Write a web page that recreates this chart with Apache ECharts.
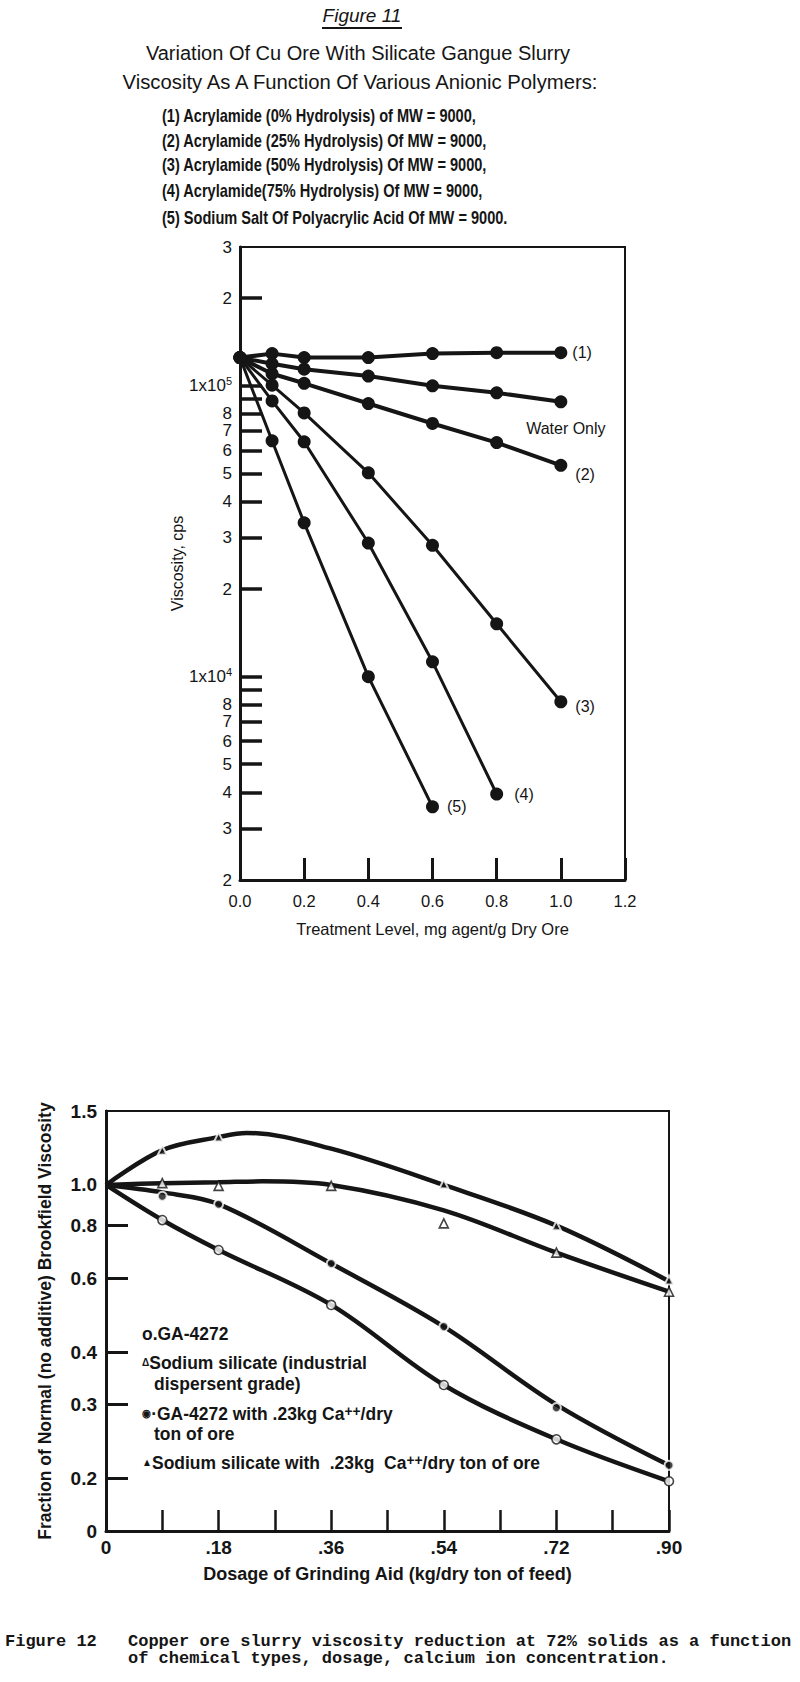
<!DOCTYPE html>
<html>
<head>
<meta charset="utf-8">
<title>Figure 11 and Figure 12</title>
<script src="https://cdn.jsdelivr.net/npm/echarts@6/dist/echarts.min.js"></script>
<style>
html, body { margin: 0; padding: 0; background: #fff; }
#main { width: 800px; height: 1682px; }
</style>
</head>
<body>
<div id="main"></div>
<script>
// ---- Figure 11: viscosity (cps) vs treatment level (mg agent / g dry ore)
var treatLevels = [0, 0.1, 0.2, 0.4, 0.6, 0.8, 1.0];
var visc1 = [125000, 129000, 125000, 125000, 129000, 130000, 130000];
var viscWater = [125000, 119000, 114000, 108000, 100000, 94600, 88100];
var visc2 = [125000, 110000, 102000, 86900, 74200, 63800, 53300];
var visc3 = [125000, 100500, 80700, 50200, 28300, 15200, 8200];
var visc4 = [125000, 88700, 64200, 28800, 11250, 3950];
var visc5 = [125000, 64700, 33800, 10000, 3570];

var viscLabelVals = [2000, 3000, 4000, 5000, 6000, 7000, 8000, 10000, 20000, 30000, 40000, 50000, 60000, 70000, 80000, 100000, 200000, 300000];
var viscLabelTexts = ['2', '3', '4', '5', '6', '7', '8', '1x10{s|4}', '2', '3', '4', '5', '6', '7', '8', '1x10{s|5}', '2', '3'];
var viscTickVals = [3000, 4000, 5000, 6000, 7000, 8000, 9000, 10000, 20000, 30000, 40000, 50000, 60000, 70000, 80000, 90000, 100000, 200000];

// ---- Figure 12: fraction of normal viscosity vs dosage (kg / dry ton of feed)
// smooth fitted curves
var silCaCurveX = [0, 0.09, 0.18, 0.225, 0.36, 0.54, 0.72, 0.90];
var silCaCurveY = [1.0, 1.21, 1.30, 1.33, 1.22, 1.0, 0.80, 0.59];
var silCurveX = [0, 0.09, 0.18, 0.25, 0.36, 0.54, 0.72, 0.90];
var silCurveY = [1.0, 1.01, 1.015, 1.02, 1.0, 0.87, 0.69, 0.557];
var gaCaCurveX = [0, 0.09, 0.18, 0.36, 0.54, 0.72, 0.90];
var gaCaCurveY = [1.0, 0.96, 0.90, 0.65, 0.46, 0.30, 0.215];
var gaCurveX = [0, 0.09, 0.18, 0.36, 0.54, 0.72, 0.90];
var gaCurveY = [1.0, 0.825, 0.70, 0.518, 0.334, 0.248, 0.197];
// measured points
var silCaPtX = [0.09, 0.18, 0.54, 0.72, 0.90];
var silCaPtY = [1.21, 1.30, 1.005, 0.80, 0.594];
var silPtX = [0.09, 0.18, 0.36, 0.54, 0.72, 0.90];
var silPtY = [1.01, 0.995, 0.995, 0.81, 0.69, 0.557];
var gaCaPtX = [0.09, 0.18, 0.36, 0.54, 0.72, 0.90];
var gaCaPtY = [0.94, 0.90, 0.65, 0.46, 0.295, 0.215];
var gaPtX = [0.09, 0.18, 0.36, 0.54, 0.72, 0.90];
var gaPtY = [0.825, 0.70, 0.518, 0.334, 0.248, 0.197];

var fracLabelVals = [0.15, 0.2, 0.3, 0.4, 0.6, 0.8, 1.0, 1.5];
var fracLabelTexts = ['0', '0.2', '0.3', '0.4', '0.6', '0.8', '1.0', '1.5'];
var fracTickVals = [0.2, 0.3, 0.4, 0.6, 0.8];
var doseLabelVals = [0, 0.18, 0.36, 0.54, 0.72, 0.90];
var doseLabelTexts = ['0', '.18', '.36', '.54', '.72', '.90'];

var INK = '#151515';
var SANS = '"Liberation Sans", Arial, sans-serif';
var MONO = '"Liberation Mono", "DejaVu Sans Mono", monospace';

function pairs(xs, ys) {
	var out = [];
	for (var i = 0; i < ys.length; i++) {
		out.push([xs[i], ys[i]]);
	}
	return out;
}

// nearest label for a tick value (works for the log axes too)
function lookupLabel(vals, texts, v) {
	var best = 0;
	for (var i = 1; i < vals.length; i++) {
		if (Math.abs(vals[i] - v) < Math.abs(vals[best] - v)) best = i;
	}
	return texts[best];
}

// put a text label on the last point of a series
function withEndLabel(data, text, opts) {
	var last = data.length - 1;
	var lbl = {
		show: true,
		formatter: text,
		color: INK,
		fontFamily: SANS,
		fontSize: 16
	};
	for (var k in opts) lbl[k] = opts[k];
	data[last] = { value: data[last], label: lbl };
	return data;
}

function viscSeries(name, ys, width, text, opts) {
	return {
		name: name,
		type: 'line',
		xAxisIndex: 0,
		yAxisIndex: 0,
		data: withEndLabel(pairs(treatLevels, ys), text, opts),
		symbol: 'circle',
		symbolSize: 13,
		itemStyle: { color: INK },
		lineStyle: { color: INK, width: width },
		z: 3
	};
}

function curveSeries(name, xs, ys) {
	return {
		name: name,
		type: 'line',
		xAxisIndex: 1,
		yAxisIndex: 1,
		data: pairs(xs, ys),
		smooth: 0.35,
		showSymbol: false,
		symbol: 'none',
		lineStyle: { color: INK, width: 4.5 },
		z: 2
	};
}

function pointSeries(name, xs, ys, symbol, open) {
	return {
		name: name,
		type: 'scatter',
		xAxisIndex: 1,
		yAxisIndex: 1,
		data: pairs(xs, ys),
		symbol: symbol,
		symbolSize: 9,
		itemStyle: open
			? { color: '#fff', borderColor: INK, borderWidth: 1.6 }
			: { color: INK, borderColor: '#fff', borderWidth: 2 },
		z: 4
	};
}

// left-aligned text, squeezed horizontally to mimic the condensed typeface
function condText(x, y, text, size, squeeze, rich) {
	var st = {
		text: text,
		font: 'bold ' + size + 'px ' + SANS,
		fill: INK,
		align: 'left',
		verticalAlign: 'middle'
	};
	if (rich) st.rich = rich;
	return { type: 'text', x: x, y: y, scaleX: squeeze, style: st };
}

function centerText(x, y, text, font) {
	return { type: 'text', x: x, y: y, style: { text: text, font: font, fill: INK, align: 'center', verticalAlign: 'middle' } };
}

function leftText(x, y, text, font) {
	return { type: 'text', x: x, y: y, style: { text: text, font: font, fill: INK, align: 'left', verticalAlign: 'middle' } };
}

var keyRich = {
	m: { fontSize: 11, fontFamily: SANS, fontWeight: 'bold', fill: INK },
	s: { fontSize: 15, fontFamily: SANS, fontWeight: 'bold', fill: INK, verticalAlign: 'top', lineHeight: 12 }
};

var chart = echarts.init(document.getElementById('main'), null, { renderer: 'svg' });

var option = {
	animation: false,
	backgroundColor: '#fff',
	grid: [
		{ left: 240, top: 247, width: 385, height: 633, show: true, borderColor: INK, borderWidth: 2, backgroundColor: 'transparent' },
		{ left: 106, top: 1111, width: 563, height: 420, show: true, borderColor: INK, borderWidth: 2, backgroundColor: 'transparent' }
	],
	xAxis: [
		{
			gridIndex: 0,
			type: 'value',
			min: 0,
			max: 1.2,
			interval: 0.2,
			name: 'Treatment Level, mg agent/g Dry Ore',
			nameLocation: 'middle',
			nameGap: 40,
			nameTextStyle: { color: INK, fontFamily: SANS, fontSize: 16.5 },
			axisLine: { onZero: false, lineStyle: { color: INK, width: 3 } },
			axisTick: { inside: true, length: 22, lineStyle: { color: INK, width: 3 } },
			axisLabel: {
				margin: 12,
				color: INK,
				fontFamily: SANS,
				fontSize: 16.5,
				formatter: function (v) { return v.toFixed(1); }
			},
			splitLine: { show: false }
		},
		{
			gridIndex: 1,
			type: 'value',
			min: 0,
			max: 0.9,
			interval: 0.09,
			name: 'Dosage of Grinding Aid (kg/dry ton of feed)',
			nameLocation: 'middle',
			nameGap: 34,
			nameTextStyle: { color: INK, fontFamily: SANS, fontWeight: 'bold', fontSize: 18 },
			axisLine: { onZero: false, lineStyle: { color: INK, width: 3 } },
			axisTick: { inside: true, length: 21, lineStyle: { color: INK, width: 2.5 } },
			axisLabel: {
				margin: 7,
				color: INK,
				fontFamily: SANS,
				fontWeight: 'bold',
				fontSize: 19,
				customValues: doseLabelVals,
				formatter: function (v) { return lookupLabel(doseLabelVals, doseLabelTexts, v); }
			},
			splitLine: { show: false }
		}
	],
	yAxis: [
		{
			gridIndex: 0,
			type: 'log',
			logBase: 10,
			min: 2000,
			max: 300000,
			name: 'Viscosity, cps',
			nameLocation: 'middle',
			nameGap: 41,
			nameTextStyle: { color: INK, fontFamily: SANS, fontSize: 16 },
			axisLine: { lineStyle: { color: INK, width: 3 } },
			axisTick: { inside: true, length: 22, customValues: viscTickVals, lineStyle: { color: INK, width: 3.5 } },
			minorTick: { show: false },
			axisLabel: {
				margin: 8,
				color: INK,
				fontFamily: SANS,
				fontSize: 17,
				lineHeight: 20,
				customValues: viscLabelVals,
				formatter: function (v) { return lookupLabel(viscLabelVals, viscLabelTexts, v); },
				rich: {
					s: { fontSize: 11, fontFamily: SANS, color: INK, verticalAlign: 'top', lineHeight: 12 }
				}
			},
			splitLine: { show: false }
		},
		{
			gridIndex: 1,
			type: 'log',
			logBase: 10,
			min: 0.15,
			max: 1.5,
			name: 'Fraction of Normal (no additive) Brookfield Viscosity',
			nameLocation: 'middle',
			nameGap: 52,
			nameTextStyle: { color: INK, fontFamily: SANS, fontWeight: 'bold', fontSize: 17.5 },
			axisLine: { lineStyle: { color: INK, width: 3 } },
			axisTick: { inside: true, length: 22, customValues: fracTickVals, lineStyle: { color: INK, width: 3 } },
			minorTick: { show: false },
			axisLabel: {
				margin: 9,
				color: INK,
				fontFamily: SANS,
				fontWeight: 'bold',
				fontSize: 19,
				customValues: fracLabelVals,
				formatter: function (v) { return lookupLabel(fracLabelVals, fracLabelTexts, v); }
			},
			splitLine: { show: false }
		}
	],
	series: [
		viscSeries('(1) Acrylamide (0% Hydrolysis)', visc1, 4, '(1)', { position: 'right', distance: 5 }),
		viscSeries('Water Only', viscWater, 4, 'Water Only', { position: 'bottom', distance: 12, offset: [5, 0] }),
		viscSeries('(2) Acrylamide (25% Hydrolysis)', visc2, 4, '(2)', { position: 'right', distance: 8, offset: [0, 9] }),
		viscSeries('(3) Acrylamide (50% Hydrolysis)', visc3, 3, '(3)', { position: 'right', distance: 8, offset: [0, 5] }),
		viscSeries('(4) Acrylamide (75% Hydrolysis)', visc4, 3, '(4)', { position: 'right', distance: 11 }),
		viscSeries('(5) Sodium Salt Of Polyacrylic Acid', visc5, 3, '(5)', { position: 'right', distance: 8 }),

		curveSeries('Sodium silicate with Ca curve', silCaCurveX, silCaCurveY),
		curveSeries('Sodium silicate curve', silCurveX, silCurveY),
		curveSeries('GA-4272 with Ca curve', gaCaCurveX, gaCaCurveY),
		curveSeries('GA-4272 curve', gaCurveX, gaCurveY),
		pointSeries('Sodium silicate with .23kg Ca++/dry ton of ore', silCaPtX, silCaPtY, 'triangle', false),
		pointSeries('Sodium silicate (industrial dispersent grade)', silPtX, silPtY, 'triangle', true),
		pointSeries('GA-4272 with .23kg Ca++/dry ton of ore', gaCaPtX, gaCaPtY, 'circle', false),
		pointSeries('GA-4272', gaPtX, gaPtY, 'circle', true)
	],
	graphic: [
		// Figure 11 heading
		centerText(362, 15, 'Figure 11', 'italic 19px ' + SANS),
		{ type: 'rect', shape: { x: 322, y: 27, width: 80, height: 2 }, style: { fill: INK } },
		centerText(358, 53, 'Variation Of Cu Ore With Silicate Gangue Slurry', '20px ' + SANS),
		centerText(360, 82, 'Viscosity As A Function Of Various Anionic Polymers:', '20.3px ' + SANS),
		condText(162, 115, '(1) Acrylamide (0% Hydrolysis) of MW = 9000,', 18, 0.81),
		condText(162, 140, '(2) Acrylamide (25% Hydrolysis) Of MW = 9000,', 18, 0.81),
		condText(162, 164, '(3) Acrylamide (50% Hydrolysis) Of MW = 9000,', 18, 0.81),
		condText(162, 190, '(4) Acrylamide(75% Hydrolysis) Of MW = 9000,', 18, 0.81),
		condText(162, 217, '(5) Sodium Salt Of Polyacrylic Acid Of MW = 9000.', 18, 0.81),

		// Figure 12 key
		condText(142, 1333, 'o.GA-4272', 19, 0.92),
		condText(142, 1362, '{m|\u0394}Sodium silicate (industrial', 19, 0.92, keyRich),
		condText(154, 1383, 'dispersent grade)', 19, 0.92),
		condText(142, 1413, '{m|\u25C9}\u00B7GA-4272 with .23kg Ca{s|++}/dry', 19, 0.92, keyRich),
		condText(154, 1433, 'ton of ore', 19, 0.92),
		condText(142, 1462, '{m|\u25B2}Sodium silicate with  .23kg  Ca{s|++}/dry ton of ore', 19, 0.92, keyRich),

		// Figure 12 caption
		leftText(5, 1641, 'Figure 12', 'bold 17px ' + MONO),
		leftText(128, 1641, 'Copper ore slurry viscosity reduction at 72% solids as a function', 'bold 17px ' + MONO),
		leftText(128, 1658, 'of chemical types, dosage, calcium ion concentration.', 'bold 17px ' + MONO)
	]
};

chart.setOption(option);
</script>
</body>
</html>
